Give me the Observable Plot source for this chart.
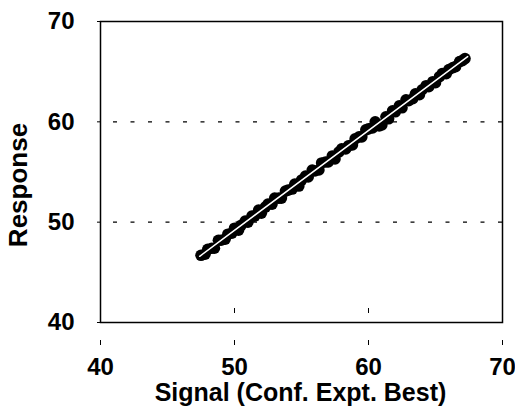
<!DOCTYPE html>
<html><head><meta charset="utf-8">
<script src="https://cdn.jsdelivr.net/npm/d3@7"></script>
<script src="https://cdn.jsdelivr.net/npm/@observablehq/plot@0.6"></script>
<style>body{margin:0;background:#fff}</style>
</head><body><div id="chart"></div>
<script>
const signal = [47.5,47.8,48.0,48.3,48.5,48.8,49.0,49.3,49.5,49.8,50.0,50.3,50.5,50.8,51.0,51.3,51.5,51.8,52.0,52.3,52.5,52.8,53.0,53.3,53.5,53.8,54.0,54.3,54.5,54.8,55.0,55.3,55.5,55.8,56.0,56.3,56.5,56.8,57.0,57.3,57.5,57.8,58.0,58.3,58.5,58.8,59.0,59.3,59.5,59.8,60.0,60.3,60.5,60.8,61.0,61.3,61.5,61.8,62.0,62.3,62.5,62.8,63.0,63.3,63.5,63.8,64.0,64.3,64.5,64.8,65.0,65.3,65.5,65.8,66.0,66.3,66.5,66.8,67.0,67.2];
const response = [46.7,46.8,47.3,47.4,47.4,48.2,48.2,48.3,48.8,48.9,49.4,49.2,49.7,50.1,50.0,50.6,50.6,51.2,50.9,51.5,51.8,51.8,52.4,52.4,52.4,53.1,53.2,53.3,53.8,53.6,54.2,54.6,54.5,55.2,55.1,55.2,55.9,56.0,56.0,56.6,56.3,57.0,57.3,57.3,57.6,57.7,58.3,58.5,58.5,59.2,59.3,59.4,60.0,59.6,59.7,60.5,60.3,61.1,61.0,61.6,61.4,62.2,62.1,62.3,62.8,62.7,63.2,63.6,63.5,64.0,63.9,64.5,64.8,64.8,65.2,65.4,65.5,66.0,66.1,66.3];
const fitSignal = [47.4, 67.4];
const fitResponse = [46.6, 66.5];
const xTicks = [40, 50, 60, 70];
const yTicks = [40, 50, 60, 70];
const gridTicks = [50, 60];
const xLabel = "Signal (Conf. Expt. Best)";
const yLabel = "Response";

const points = signal.map((s, i) => ({x: s, y: response[i]}));
const fit = fitSignal.map((s, i) => ({x: s, y: fitResponse[i]}));

const chart = Plot.plot({
  width: 515, height: 406,
  marginLeft: 100, marginRight: 13, marginTop: 21, marginBottom: 84,
  x: {domain: [40, 70]},
  y: {domain: [40, 70]},
  style: {fontFamily: "'Liberation Sans', Arial, sans-serif", fontSize: "24px", fontWeight: "bold", color: "black", background: "white"},
  marks: [
    Plot.gridY(gridTicks, {stroke: "black", strokeOpacity: 1, strokeWidth: 1.2, strokeDasharray: "4,13.5", strokeDashoffset: 4.5}),
    Plot.dot(points, {x: "x", y: "y", r: 5.8, fill: "black", stroke: "none"}),
    Plot.line(fit, {x: "x", y: "y", stroke: "white", strokeWidth: 1.5}),
    Plot.frame({stroke: "black", strokeWidth: 1.5}),
    Plot.axisY(yTicks, {anchor: "left", tickSize: 3, tickPadding: 23, label: null}),
    Plot.axisX(xTicks, {anchor: "bottom", tickSize: 0, tickPadding: 35, label: null}),
    Plot.axisX(xTicks, {anchor: "bottom", tickSize: 5, dy: -14, tickFormat: () => "", label: null}),
    Plot.axisX(xTicks, {anchor: "bottom", tickSize: 5, dy: 18, tickFormat: () => "", label: null}),
    Plot.text([xLabel], {frameAnchor: "bottom", lineAnchor: "middle", textAnchor: "middle", dx: -1, dy: 70, fontSize: 25, fontWeight: "bold"}),
    Plot.text([yLabel], {frameAnchor: "left", rotate: -90, textAnchor: "middle", lineAnchor: "middle", dx: -82, dy: 13, fontSize: 26, fontWeight: "bold"})
  ]
});
document.getElementById("chart").appendChild(chart);
</script>
</body></html>
